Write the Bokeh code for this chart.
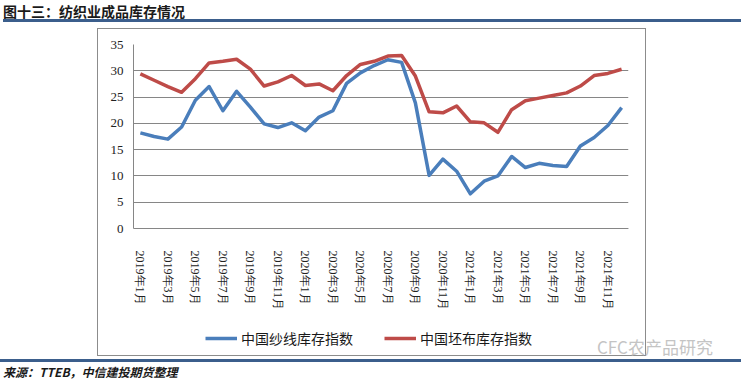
from bokeh.plotting import figure
from bokeh.models import (Range1d, Legend, LegendItem, ColumnDataSource,
                          FixedTicker, Div, Spacer)
from bokeh.layouts import column, row
from bokeh.embed import file_html
from bokeh.resources import INLINE

months = [f"{y}年{m}月" for y in (2019, 2020, 2021) for m in range(1, 13)]

yarn = [18.2, 17.5, 17.0, 19.3, 24.4, 27.0, 22.4, 26.1, 23.1, 19.9, 19.2, 20.1,
        18.6, 21.2, 22.4, 27.6, 29.6, 31.0, 32.1, 31.6, 23.9, 10.1, 13.2, 10.9,
        6.6, 9.0, 10.0, 13.7, 11.6, 12.4, 12.0, 11.8, 15.7, 17.3, 19.6, 23.0]
cloth = [29.4, 28.2, 27.0, 25.9, 28.5, 31.5, 31.8, 32.2, 30.3, 27.1, 27.9, 29.1,
         27.2, 27.5, 26.2, 29.1, 31.2, 31.8, 32.8, 32.9, 29.0, 22.2, 22.0, 23.3,
         20.3, 20.1, 18.3, 22.6, 24.3, 24.8, 25.3, 25.8, 27.1, 29.1, 29.5, 30.3]
y_ticks = [0, 5, 10, 15, 20, 25, 30, 35]
x_ticks = list(range(0, len(months), 2))

title_text = "图十三：纺织业成品库存情况"
source_text = "来源：TTEB，中信建投期货整理"
watermark_text = "CFC农产品研究"
legend_labels = ["中国纱线库存指数", "中国坯布库存指数"]

# layout geometry (page pixels); the canvas sits just inside a 1px outline
CAN_L, CAN_R, CAN_T, CAN_B = 98, 645, 29, 355
PLOT_L, PLOT_R, Y35, Y0 = 133, 628, 44, 228
FRAME_B = 354
YMAX = 35
ymin = -YMAX * (FRAME_B - Y0) / (Y0 - Y35)

idx = list(range(len(months)))
src = ColumnDataSource(dict(x=idx, yarn=yarn, cloth=cloth))

p = figure(width=CAN_R - CAN_L, height=CAN_B - CAN_T, output_backend="svg",
           toolbar_location=None,
           x_range=Range1d(-0.5, len(months) - 0.5), y_range=Range1d(ymin, YMAX),
           min_border_left=PLOT_L - CAN_L, min_border_right=CAN_R - PLOT_R,
           min_border_top=Y35 - CAN_T, min_border_bottom=CAN_B - FRAME_B)
p.outline_line_color = None
p.background_fill_color = "white"
p.border_fill_color = "white"
p.styles = {"outline": "1px solid #8c8c8c", "outline-offset": "0px"}

r1 = p.line("x", "yarn", source=src, line_color="#4A7EBB", line_width=3.5,
            line_join="round")
r2 = p.line("x", "cloth", source=src, line_color="#BE4B48", line_width=3.5,
            line_join="round")

grey = "#868686"
p.xgrid.visible = False
p.ygrid.grid_line_color = grey
p.ygrid.grid_line_width = 1
p.ygrid.ticker = FixedTicker(ticks=y_ticks)
p.yaxis.ticker = FixedTicker(ticks=y_ticks)
p.yaxis.bounds = (0, YMAX)
p.yaxis.axis_line_color = grey
p.yaxis.major_tick_line_color = None
p.yaxis.minor_tick_line_color = None
p.yaxis.major_tick_out = 0
p.yaxis.major_tick_in = 0
p.yaxis.major_label_text_font = "Liberation Serif"
p.yaxis.major_label_text_font_size = "13px"
p.yaxis.major_label_text_color = "#222222"
p.yaxis.major_label_standoff = 10

p.xaxis.fixed_location = 0
p.xaxis.ticker = FixedTicker(ticks=x_ticks)
p.xaxis.major_label_overrides = {i: months[i] for i in x_ticks}
p.xaxis.axis_line_color = grey
p.xaxis.major_tick_line_color = None
p.xaxis.minor_tick_line_color = None
p.xaxis.major_tick_out = 0
p.xaxis.major_tick_in = 0
p.xaxis.minor_tick_out = 0
p.xaxis.major_label_orientation = "vertical"
p.xaxis.major_label_text_font = "Liberation Serif"
p.xaxis.major_label_text_font_size = "12px"
p.xaxis.major_label_text_color = "#222222"
p.xaxis.major_label_standoff = 22

legend = Legend(items=[LegendItem(label=legend_labels[0], renderers=[r1]),
                       LegendItem(label=legend_labels[1], renderers=[r2])],
                orientation="horizontal", location=(205 - PLOT_L, FRAME_B - 348),
                border_line_color=None, background_fill_alpha=0,
                padding=0, margin=0, spacing=31, glyph_width=32, glyph_height=16,
                label_height=16, label_standoff=4,
                label_text_font="Noto Sans CJK SC",
                label_text_font_size="14px", label_text_color="#1a1a1a")
p.add_layout(legend)

title_div = Div(
    text=(f'<div style="margin-left:3px;width:738px;height:22px;line-height:20px;'
          f'padding-top:1px;font-family:\'Noto Sans CJK SC\';font-weight:bold;'
          f'font-size:14px;color:#1a1a1a;white-space:nowrap;'
          f'border-bottom:3px solid #3B5E8C;">{title_text}</div>'),
    width=741, height=CAN_T, margin=0)

source_div = Div(
    text=(f'<div style="margin-top:4px;width:741px;border-top:3px solid #3B5E8C;'
          f'padding-top:3px;padding-left:3px;font-family:\'Noto Sans CJK SC\';'
          f'font-style:italic;font-weight:600;font-size:12px;line-height:14px;'
          f'white-space:nowrap;color:#1a1a1a;">{source_text}</div>'),
    width=741, height=384 - CAN_B, margin=0)

wm_div = Div(
    text=(f'<div style="position:relative;left:-48px;top:308px;width:140px;'
          f'height:20px;line-height:20px;white-space:nowrap;'
          f'font-family:\'Noto Sans CJK SC\';font-size:17px;'
          f'color:#c4c4c4;">{watermark_text}</div>'),
    width=741 - CAN_R, height=40, margin=0, styles={"overflow": "visible"})

layout = column(title_div,
                row(Spacer(width=CAN_L, height=10, margin=0), p, wm_div, spacing=0),
                source_div, spacing=0)

open("out.html", "w").write(file_html(layout, INLINE))
